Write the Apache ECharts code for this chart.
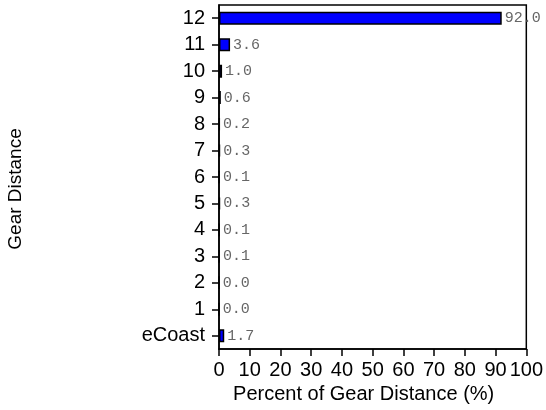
<!DOCTYPE html>
<html>
<head>
<meta charset="utf-8">
<script src="https://cdn.jsdelivr.net/npm/echarts@6/dist/echarts.min.js"></script>
<style>
  html, body { margin: 0; padding: 0; background: #fff; }
  #chart { width: 546px; height: 410px; }
</style>
</head>
<body>
<div id="chart"></div>
<script>
// gears, bottom to top
const gears = ['eCoast', '1', '2', '3', '4', '5', '6', '7', '8', '9', '10', '11', '12']
const percents = [1.7, 0.0, 0.0, 0.1, 0.1, 0.3, 0.1, 0.3, 0.2, 0.6, 1.0, 3.6, 92.0]
const xTicks = [0, 10, 20, 30, 40, 50, 60, 70, 80, 90, 100]

const chart = echarts.init(document.getElementById('chart'), null, { renderer: 'canvas' })

const axisFont = 'Liberation Sans, Arial, sans-serif'

chart.setOption({
  animation: false,
  backgroundColor: '#fff',
  grid: {
    left: 219,
    right: 19,
    top: 5,
    bottom: 61,
    show: true,
    borderColor: '#000',
    borderWidth: 1.5
  },
  // y axis title sits a bit below the plot centre in the original
  graphic: [{
    type: 'text',
    x: 6,
    y: 189,
    rotation: Math.PI / 2,
    style: {
      text: 'Gear Distance',
      fill: '#000',
      font: '19px ' + axisFont,
      align: 'center',
      verticalAlign: 'top'
    }
  }],
  xAxis: {
    type: 'value',
    min: xTicks[0],
    max: xTicks[xTicks.length - 1],
    interval: 10,
    name: 'Percent of Gear Distance (%)',
    nameLocation: 'middle',
    nameGap: 26,
    nameTextStyle: { color: '#000', fontSize: 20, fontFamily: axisFont, padding: [0, 18, 0, 0] },
    axisLine: { show: true, lineStyle: { color: '#000', width: 1.5 } },
    axisTick: { show: true, length: 7, lineStyle: { color: '#000', width: 1.5 } },
    axisLabel: { color: '#000', fontSize: 20, fontFamily: axisFont, margin: 11 },
    splitLine: { show: false }
  },
  yAxis: {
    type: 'category',
    data: gears,
    axisLine: { show: true, lineStyle: { color: '#000', width: 1.5 } },
    axisTick: { show: true, alignWithLabel: true, length: 7, lineStyle: { color: '#000', width: 1.5 } },
    axisLabel: { color: '#000', fontSize: 20, fontFamily: axisFont, margin: 14 },
    splitLine: { show: false }
  },
  series: [{
    type: 'bar',
    data: percents,
    barWidth: 13,
    itemStyle: { color: '#0000ff', borderColor: '#000', borderWidth: 1.5 },
    label: {
      show: true,
      position: 'right',
      distance: 3,
      color: '#666',
      fontSize: 15,
      fontFamily: 'Liberation Mono, DejaVu Sans Mono, monospace',
      formatter: p => p.value.toFixed(1)
    }
  }]
})
</script>
</body>
</html>
